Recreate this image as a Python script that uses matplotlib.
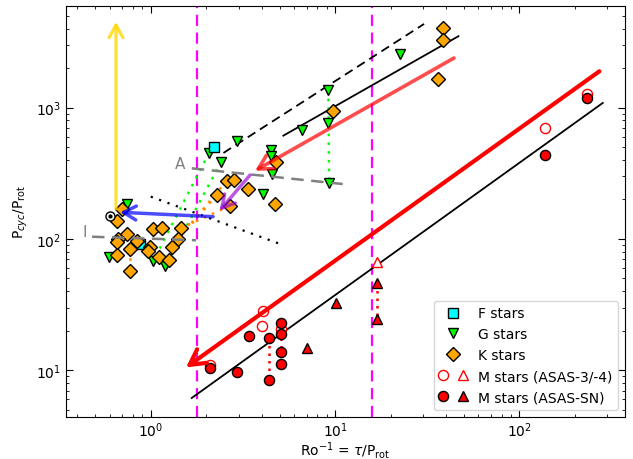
import numpy as np
import matplotlib
matplotlib.use('Agg')
import matplotlib.pyplot as plt
from matplotlib.lines import Line2D
from matplotlib.legend_handler import HandlerTuple

# F, G, K stars (Ro^-1, Pcyc/Prot)
f_ro = [2.21, 0.875]
f_pc = [499, 91.6]

g_ro = [0.741, 0.596, 1.033, 1.196, 2.072, 2.416, 2.928, 4.495, 4.467, 4.552,
        4.068, 6.597, 9.197, 9.163, 9.278, 22.53]
g_pc = [183, 72.6, 68.4, 62.0, 452, 388, 558, 479, 432, 313,
        220, 680, 1364, 761, 265, 2564]

k_ro = [0.696, 0.654, 0.746, 0.667, 0.654, 0.839, 0.772, 0.659, 0.991, 0.970,
        0.772, 1.033, 1.147, 1.46, 1.412, 1.30, 1.109, 1.261, 2.281, 2.585,
        2.831, 3.385, 2.693, 4.727, 4.756, 9.79, 38.4, 38.4, 36.1]
k_pc = [169, 138, 109, 100, 94.4, 97.1, 83.9, 75.9, 86.5, 81.4,
        57.4, 119, 121, 121, 100, 87.4, 72.6, 69.2, 216, 278,
        281, 240, 179, 185, 388, 939, 4024, 3279, 1654]

# M stars
m_oc_ro = [2.098, 4.053, 4.033, 5.075, 137.9, 233.9]
m_oc_pc = [10.97, 28.4, 21.9, 20.6, 704, 1278]
m_fc_ro = [2.098, 2.951, 3.415, 4.401, 4.401, 5.075, 5.075, 5.075, 5.075, 137.9, 233.9]
m_fc_pc = [10.36, 9.76, 18.34, 17.6, 8.48, 22.8, 18.9, 13.7, 11.2, 434, 1179]
m_ot_ro = [16.84]
m_ot_pc = [67.2]
m_ft_ro = [16.96, 16.96, 10.09, 7.02]
m_ft_pc = [46.0, 24.6, 32.6, 14.7]

sun = (0.601, 149)

# dotted connections (x pair, y pair)
green_links = [([2.072, 1.033], [452, 68.4]), ([2.416, 1.196], [388, 62.0]),
               ([9.197, 9.278], [1364, 265])]
orange_links = [([0.772, 0.772], [83.9, 57.4]), ([2.585, 1.412], [278, 100]),
                ([2.281, 1.30], [216, 87.4]), ([2.693, 1.46], [179, 121])]
red_links = [([4.401, 4.401], [17.6, 8.48]), ([5.075, 5.075], [22.8, 11.2]),
             ([16.96, 16.96], [46.0, 24.6])]

# trend lines
fit_upper = ([5.24, 46.7], [612, 3500])
fit_lower = ([1.669, 283.5], [6.15, 1086])
fit_dash = ([2.48, 30.4], [452, 4340])
fit_dot = ([1.0, 4.92], [210, 92.7])
branch_A = ([1.67, 11.0], [345, 262])
branch_I = ([0.48, 1.762], [104, 97.8])
ro_crit = [1.78, 15.9]

# arrows: (start, tip)
arr_yellow = ((0.648, 169), (0.648, 4500))
arr_blue = ((2.178, 147.8), (0.681, 159.7))
arr_purple = ((3.46, 307), (2.36, 164))
arr_lred = ((44.2, 2388), (3.68, 331))
arr_red = ((271.7, 1892), (1.554, 10.5))

fig = plt.figure(figsize=(6.33, 4.6), dpi=100)
ax = fig.add_axes([0.1043, 0.092, 0.883, 0.8935])
ax.set_xscale('log')
ax.set_yscale('log')

for xv in ro_crit:
    ax.axvline(xv, color='magenta', ls=(0, (5, 3)), lw=1.6, zorder=1)

ax.plot(*fit_upper, color='k', lw=1.3, zorder=2)
ax.plot(*fit_lower, color='k', lw=1.3, zorder=2)
ax.plot(*fit_dash, color='k', lw=1.3, ls=(0, (5, 3)), zorder=2)
ax.plot(*fit_dot, color='k', lw=1.6, ls=(0, (1, 3)), zorder=2)

for xs, ys in green_links:
    ax.plot(xs, ys, color='lime', lw=1.8, ls=(0, (1, 2.5)), zorder=2)
for xs, ys in orange_links:
    ax.plot(xs, ys, color='darkorange', lw=1.8, ls=(0, (1, 2.5)), zorder=2)
for xs, ys in red_links:
    ax.plot(xs, ys, color='red', lw=1.8, ls=(0, (1, 2)), zorder=2)

ms = 7.3
ax.plot(g_ro, g_pc, 'v', color='lime', mec='k', ms=ms, zorder=3)
ax.plot(f_ro, f_pc, 's', color='cyan', mec='k', ms=ms - 0.5, zorder=3)
ax.plot(k_ro, k_pc, 'D', color='orange', mec='k', ms=ms, zorder=3)
ax.plot(m_oc_ro, m_oc_pc, 'o', mfc='white', mec='red', ms=ms, zorder=3)
ax.plot(m_fc_ro, m_fc_pc, 'o', color='red', mec='k', ms=ms, zorder=3)
ax.plot(m_ot_ro, m_ot_pc, '^', mfc='white', mec='red', ms=ms, zorder=3)
ax.plot(m_ft_ro, m_ft_pc, '^', color='red', mec='k', ms=ms, zorder=3)

ax.plot(*sun, 'o', mfc='white', mec='k', ms=6.5, mew=1.0, zorder=4)
ax.plot(*sun, 'o', color='k', ms=2, zorder=4)

ax.plot(*branch_A, color='gray', lw=1.8, ls=(0, (5, 3)), zorder=4)
ax.plot(*branch_I, color='gray', lw=1.8, ls=(0, (5, 3)), zorder=4)
ax.text(1.44, 373, 'A', color='gray', fontsize=11, ha='center', va='center')
ax.text(0.44, 113.7, 'I', color='gray', fontsize=11, ha='center', va='center')


def arrow(se, color, lw, alpha=1.0, hl=0.45, hw=0.25):
    ax.annotate('', xy=se[1], xytext=se[0], zorder=5,
                arrowprops=dict(arrowstyle='->,head_length=%g,head_width=%g' % (hl, hw),
                                color=color, lw=lw, alpha=alpha, mutation_scale=20,
                                shrinkA=0, shrinkB=0))


arrow(arr_yellow, 'gold', 2.3, 0.8)
arrow(arr_blue, 'blue', 2.5, 0.7)
arrow(arr_purple, 'darkviolet', 2.5, 0.65)
arrow(arr_lred, 'red', 2.6, 0.7, hl=0.5, hw=0.28)
arrow(arr_red, 'red', 3.0, 1.0, hl=0.55, hw=0.3)

ax.set_xlim(0.347, 374)
ax.set_ylim(4.43, 5980)
ax.tick_params(which='both', direction='in', top=True, right=True, labelsize=10)
ax.tick_params(axis='x', pad=2.5)
ax.tick_params(which='major', length=5)
ax.tick_params(which='minor', length=2.5)
ax.set_xlabel(r'Ro$^{-1}$ = $\tau$/P$_{\rm rot}$', fontsize=10, labelpad=0)
ax.set_ylabel(r'P$_{cyc}$/P$_{\rm rot}$', fontsize=10)

h_f = Line2D([], [], marker='s', color='cyan', mec='k', ls='', ms=ms - 0.5)
h_g = Line2D([], [], marker='v', color='lime', mec='k', ls='', ms=ms)
h_k = Line2D([], [], marker='D', color='orange', mec='k', ls='', ms=ms)
h_mo = (Line2D([], [], marker='o', mfc='white', mec='red', ls='', ms=ms),
        Line2D([], [], marker='^', mfc='white', mec='red', ls='', ms=ms))
h_mf = (Line2D([], [], marker='o', color='red', mec='k', ls='', ms=ms),
        Line2D([], [], marker='^', color='red', mec='k', ls='', ms=ms))
ax.legend([h_f, h_g, h_k, h_mo, h_mf],
          ['F stars', 'G stars', 'K stars', 'M stars (ASAS-3/-4)', 'M stars (ASAS-SN)'],
          loc='lower right', fontsize=10, numpoints=1,
          handler_map={tuple: HandlerTuple(ndivide=None, pad=0.8)})

fig.savefig('out.png', dpi=100)
